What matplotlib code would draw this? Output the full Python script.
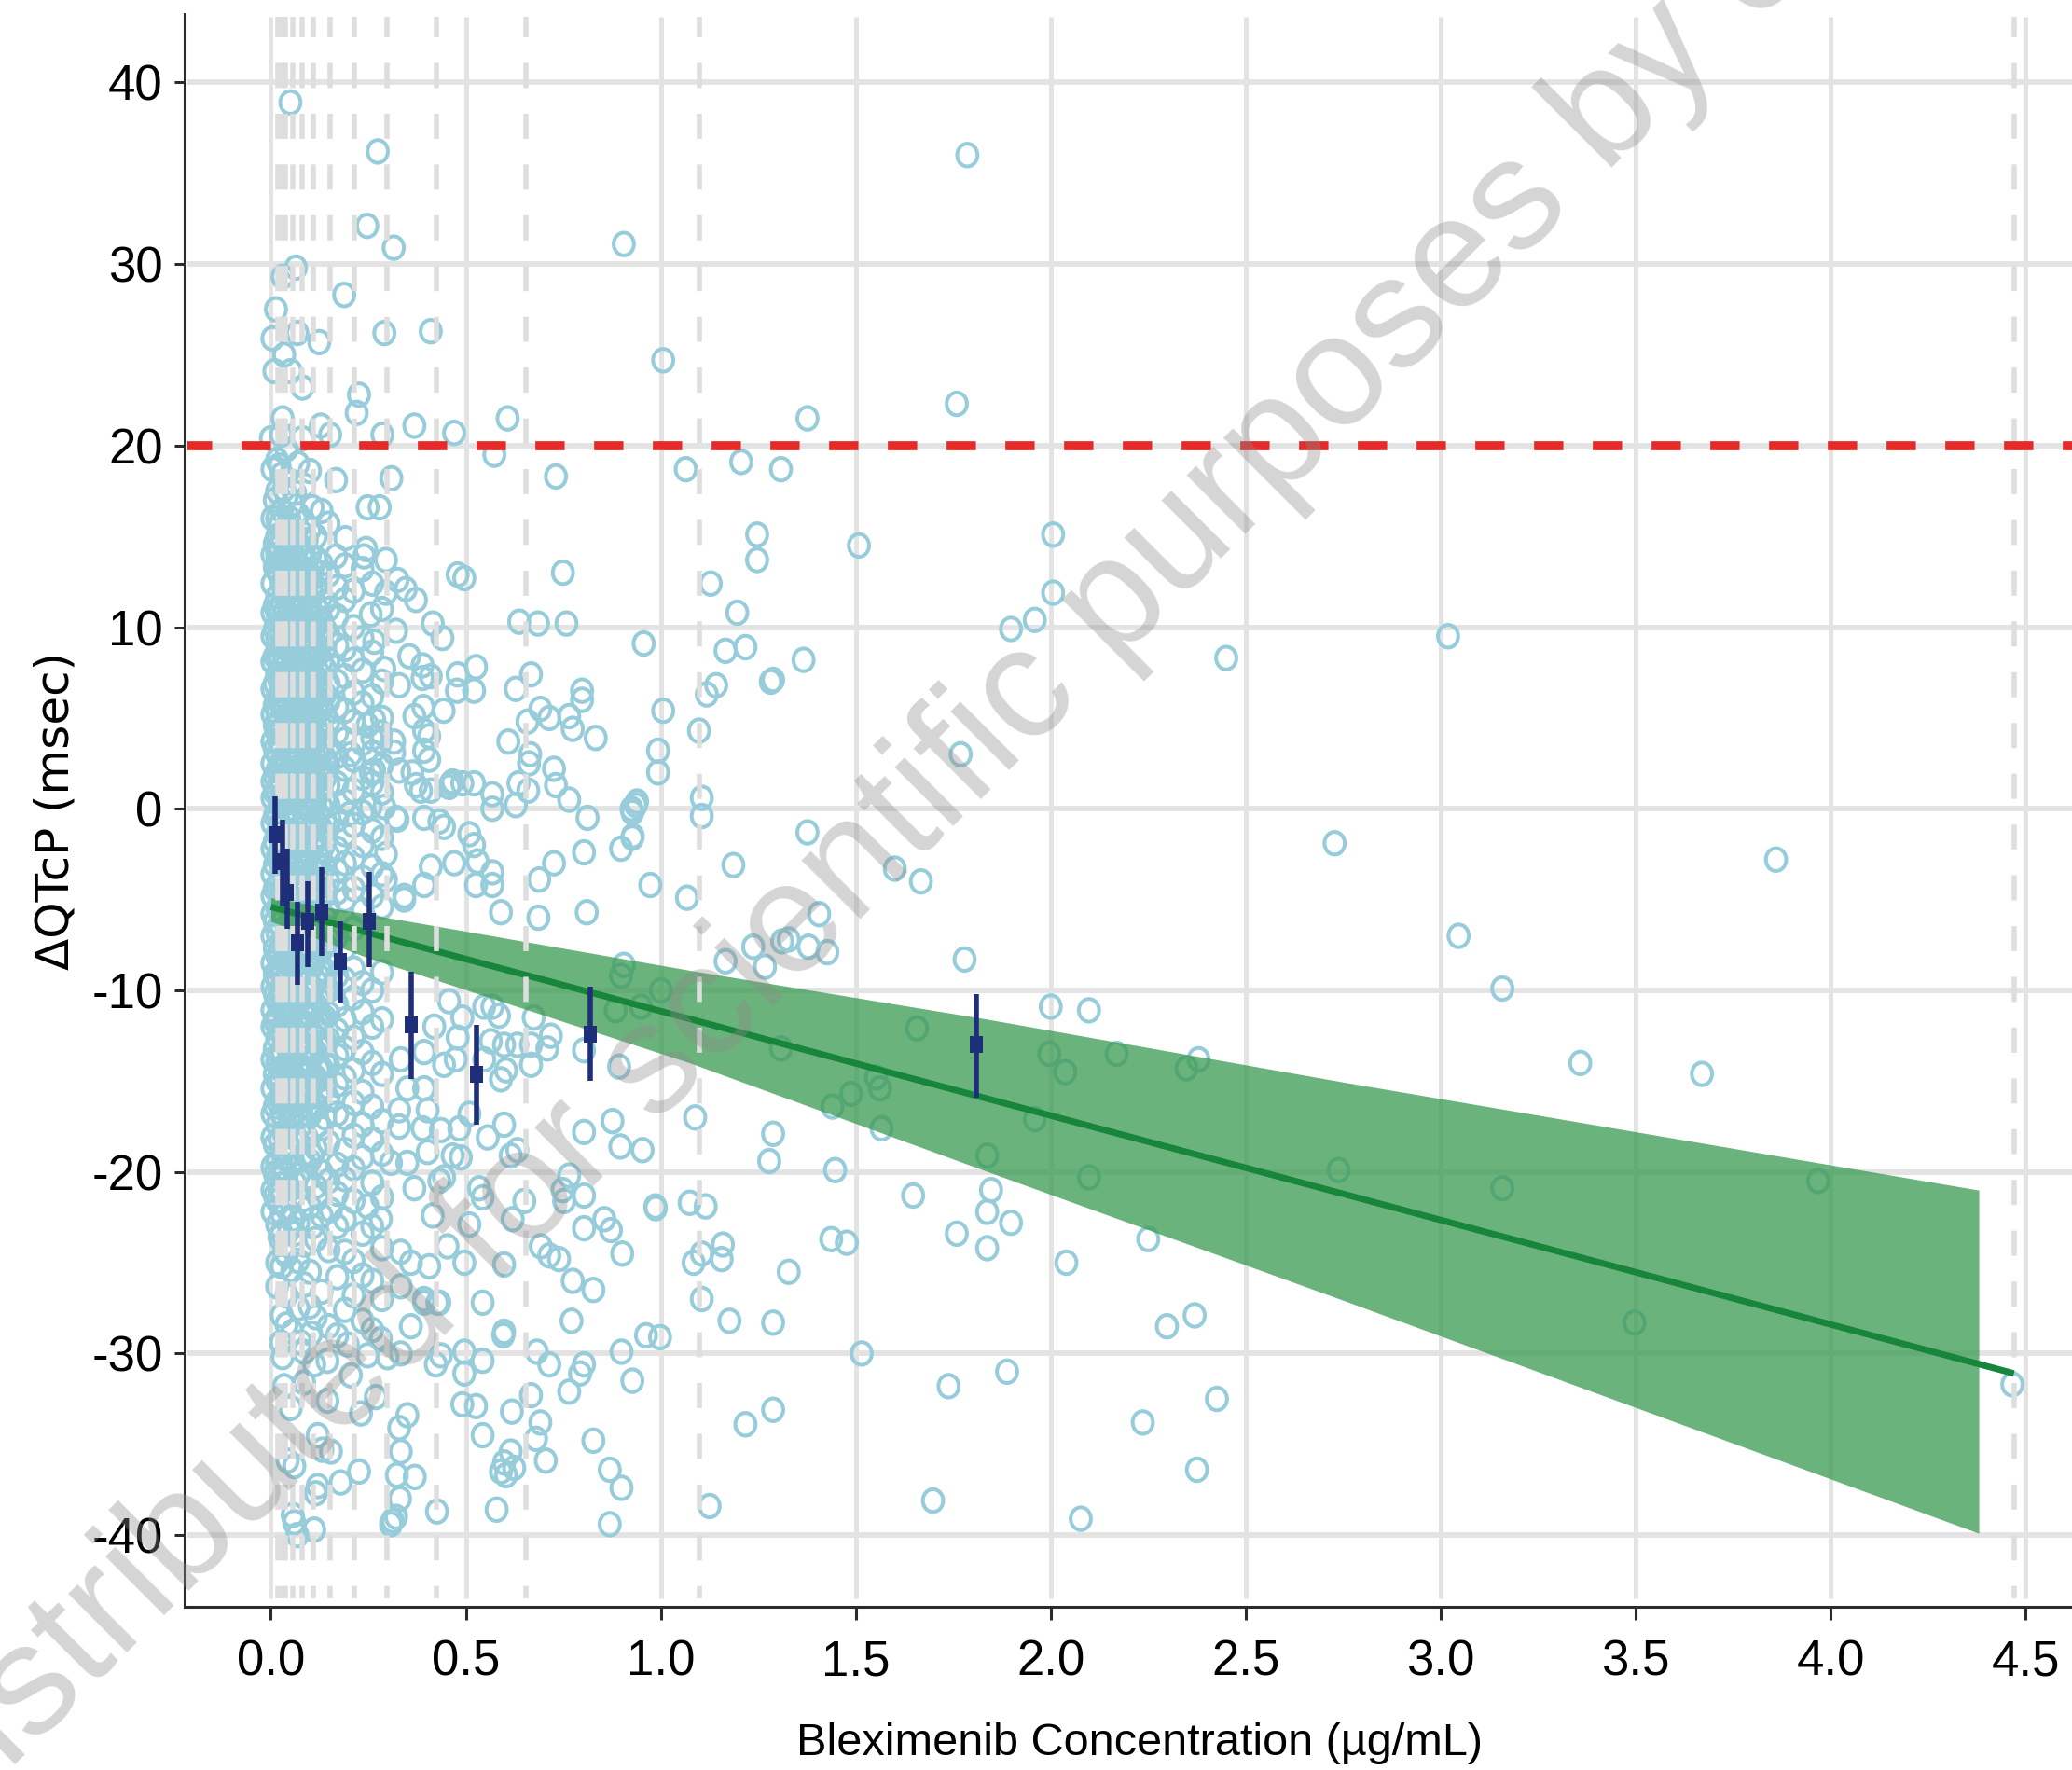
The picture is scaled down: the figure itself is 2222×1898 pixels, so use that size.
import numpy as np
import matplotlib
matplotlib.use('Agg')
import matplotlib.pyplot as plt
from matplotlib.markers import MarkerStyle
from matplotlib.transforms import Affine2D

plt.rcParams['axes.unicode_minus'] = False

x_ticks = [0.0, 0.5, 1.0, 1.5, 2.0, 2.5, 3.0, 3.5, 4.0, 4.5]
y_ticks = [40, 30, 20, 10, 0, -10, -20, -30, -40]
threshold = 20

# dashed lines, one per concentration bin
bin_edges = [0.017, 0.03, 0.038, 0.056, 0.081, 0.109, 0.151, 0.214, 0.297, 0.424, 0.655, 1.10, 4.47]

# regression line and its band
line_x = [0.0, 4.47]
line_y = [-5.4, -31.1]
band_x = [0.0, 0.248, 1.075, 1.84, 2.75, 4.38]
band_hi = [-4.9, -5.8, -8.9, -11.6, -15.05, -21.0]
band_lo = [-6.2, -8.2, -14.0, -20.0, -27.07, -39.9]

# observed mean and CI per bin
mean_x = [0.01, 0.03, 0.043, 0.067, 0.094, 0.13, 0.179, 0.253, 0.361, 0.527, 0.819, 1.809]
mean_y = [-1.4, -2.9, -4.6, -7.4, -6.2, -5.7, -8.4, -6.2, -11.9, -14.6, -12.4, -13.0]
mean_top = [0.7, -0.6, -2.2, -5.1, -4.0, -3.2, -6.2, -3.5, -9.0, -11.9, -9.8, -10.2]
mean_bottom = [-3.6, -5.4, -6.6, -9.7, -8.7, -8.1, -10.7, -8.7, -14.9, -17.4, -15.0, -15.9]

# individual observations, sparse part of the plot
far_points = [
    (1.786, 36.0), (0.905, 31.1), (1.006, 24.7), (0.607, 21.5), (1.376, 21.5), (1.759, 22.3),
    (1.206, 19.1), (1.064, 18.7), (1.308, 18.7), (1.247, 15.1), (1.247, 13.7), (1.508, 14.5),
    (1.128, 12.4), (1.196, 10.8), (2.006, 15.1), (2.006, 11.9), (1.959, 10.4), (1.898, 9.9),
    (2.45, 8.3), (3.019, 9.5), (0.956, 9.1), (1.166, 8.7), (1.217, 8.9), (1.366, 8.2),
    (1.142, 6.8), (1.118, 6.3), (1.288, 7.1), (1.282, 7.0), (1.098, 4.3), (1.006, 5.4), (0.993, 3.2),
    (0.993, 2.0), (1.105, 0.6), (1.105, -0.4), (0.939, 0.4), (0.925, 0.0), (0.928, -1.5),
    (0.898, -2.2), (1.769, 3.0), (1.376, -1.3), (1.186, -3.1), (1.6, -3.3), (1.667, -4.0),
    (0.973, -4.2), (1.067, -4.9), (1.406, -5.8), (1.427, -7.9), (1.379, -7.6), (1.311, -7.3),
    (1.328, -7.2), (1.237, -7.6), (1.267, -8.7), (1.166, -8.4), (1.779, -8.3), (2.728, -1.9),
    (3.86, -2.8), (3.046, -7.0), (3.158, -9.9), (3.358, -14.0), (3.67, -14.6), (2.0, -10.9),
    (2.098, -11.1), (1.657, -12.1), (1.996, -13.5), (2.037, -14.5), (2.169, -13.5), (2.379, -13.8),
    (2.348, -14.3), (1.308, -13.2), (1.488, -15.7), (1.44, -16.4), (1.562, -15.4), (1.566, -17.6),
    (1.552, -14.8), (1.959, -17.1), (1.837, -19.1), (2.738, -19.9), (3.158, -20.9), (3.968, -20.5),
    (2.098, -20.3), (1.847, -21.0), (1.647, -21.3), (1.447, -19.9), (1.288, -17.9), (1.278, -19.4),
    (1.088, -17.0), (1.837, -22.2), (1.898, -22.8), (1.759, -23.4), (1.837, -24.2), (2.25, -23.7),
    (2.04, -25.0), (1.437, -23.7), (1.477, -23.9), (1.328, -25.5), (1.074, -21.7), (1.115, -21.9),
    (1.159, -24.0), (1.156, -24.8), (1.105, -24.5), (1.084, -25.0), (0.986, -21.9), (1.105, -27.0),
    (1.176, -28.2), (1.288, -28.3), (2.298, -28.5), (2.369, -27.9), (3.497, -28.3), (1.515, -30.0),
    (1.888, -31.0), (1.738, -31.8), (2.426, -32.5), (2.236, -33.8), (1.288, -33.1), (1.217, -33.9),
    (4.466, -31.7), (2.375, -36.4), (1.698, -38.1), (2.077, -39.1), (1.125, -38.4),
    (0.949, -10.9), (0.884, -11.1), (0.898, -9.2), (0.905, -8.6), (1.0, -10.0),
]

# middle part
mid_points = [
    (0.05, 38.9), (0.274, 36.2), (0.247, 32.1), (0.315, 30.9), (0.064, 29.8), (0.03, 29.3),
    (0.013, 27.5), (0.188, 28.3), (0.004, 25.9), (0.068, 26.2), (0.124, 25.7), (0.291, 26.2),
    (0.41, 26.3), (0.034, 25.0), (0.009, 24.1), (0.051, 24.1), (0.081, 23.2), (0.226, 22.8),
    (0.22, 21.8), (0.03, 21.5), (0.128, 21.1), (0.152, 20.6), (0.368, 21.1), (0.286, 20.6),
    (0.47, 20.7), (0.0, 20.4), (0.081, 20.4), (0.026, 20.6), (0.573, 19.5), (0.731, 18.3),
    (0.309, 18.2), (0.167, 18.1), (0.248, 16.6), (0.279, 16.6), (0.749, 13.0), (0.479, 12.9),
    (0.496, 12.7), (0.295, 13.7), (0.244, 14.3), (0.239, 13.9), (0.191, 14.9), (0.167, 13.9),
    (0.148, 15.7), (0.107, 16.6), (0.325, 12.6), (0.346, 12.1), (0.372, 11.5), (0.295, 11.9),
    (0.415, 10.2), (0.44, 9.4), (0.321, 9.8), (0.256, 10.7), (0.265, 9.2), (0.637, 10.3),
    (0.685, 10.2), (0.758, 10.2), (0.526, 7.8), (0.479, 7.4), (0.521, 6.5), (0.477, 6.5),
    (0.667, 7.4), (0.628, 6.6), (0.355, 8.4), (0.389, 7.9), (0.41, 7.3), (0.389, 7.2),
    (0.291, 7.7), (0.329, 6.8), (0.798, 6.5), (0.798, 6.0), (0.443, 5.4), (0.691, 5.5),
    (0.714, 5.0), (0.658, 4.8), (0.765, 5.1), (0.774, 4.4), (0.833, 3.9), (0.609, 3.7),
    (0.368, 5.1), (0.391, 5.6), (0.393, 4.3), (0.406, 4.0), (0.665, 3.0), (0.662, 2.5),
    (0.393, 3.2), (0.406, 2.7), (0.726, 2.2), (0.731, 1.3), (0.635, 1.4), (0.66, 1.0),
    (0.765, 0.5), (0.812, -0.5), (0.936, 0.2), (0.927, -0.2), (0.927, -1.6), (0.803, -2.4),
    (0.726, -3.0), (0.688, -3.9), (0.462, 1.4), (0.466, 1.5), (0.457, 1.2), (0.491, 1.4),
    (0.521, 1.4), (0.568, 0.8), (0.568, 0.0), (0.628, 0.2), (0.509, -1.4), (0.521, -2.0),
    (0.53, -2.9), (0.47, -3.0), (0.41, -3.2), (0.568, -3.5), (0.526, -4.2), (0.568, -4.2),
    (0.393, -4.2), (0.342, -4.8), (0.295, -2.5), (0.295, -3.9), (0.321, -0.5), (0.325, -0.6),
    (0.393, -0.5), (0.432, -0.7), (0.444, -1.0), (0.363, 2.0), (0.372, 1.3), (0.385, 1.0),
    (0.41, 1.0), (0.329, 2.1), (0.256, 0.1), (0.291, 0.1), (0.201, -0.3), (0.316, 3.7),
    (0.316, 3.1), (0.256, 2.0), (0.265, 2.1), (0.205, 3.0), (0.248, 4.6), (0.265, 4.9),
    (0.282, 4.2), (0.282, 3.7), (0.261, 3.1), (0.59, -5.7), (0.686, -6.0), (0.81, -5.7),
    (0.342, -5.0), (0.547, -10.9), (0.568, -10.9), (0.585, -11.4), (0.674, -11.5), (0.718, -12.5),
    (0.709, -13.2), (0.667, -13.0), (0.667, -14.1), (0.632, -13.0), (0.598, -13.0), (0.603, -14.4),
    (0.59, -14.9), (0.564, -12.8), (0.547, -13.8), (0.803, -13.3), (0.893, -14.2), (0.803, -17.8),
    (0.876, -17.2), (0.896, -18.6), (0.953, -18.8), (0.598, -17.4), (0.556, -18.1), (0.632, -18.8),
    (0.615, -19.1), (0.765, -20.2), (0.748, -21.0), (0.752, -21.6), (0.803, -21.3), (0.987, -22.0),
    (0.803, -23.1), (0.855, -22.6), (0.872, -23.2), (0.901, -24.5), (0.534, -20.9), (0.543, -21.4),
    (0.65, -21.6), (0.62, -22.6), (0.509, -22.9), (0.692, -24.1), (0.714, -24.6), (0.739, -24.8),
    (0.598, -25.1), (0.774, -26.0), (0.827, -26.5), (0.771, -28.2), (0.543, -27.2), (0.427, -27.2),
    (0.393, -27.2), (0.962, -29.0), (0.998, -29.1), (0.598, -28.8), (0.359, -28.5), (0.35, -15.4),
    (0.393, -15.4), (0.393, -13.4), (0.333, -13.8), (0.444, -14.1), (0.474, -13.8), (0.419, -12.0),
    (0.457, -10.6), (0.491, -11.5), (0.479, -12.6), (0.402, -16.6), (0.329, -16.6), (0.436, -17.7),
    (0.483, -17.6), (0.509, -16.8), (0.389, -17.6), (0.329, -17.5), (0.402, -18.9), (0.35, -19.5),
    (0.308, -19.5), (0.466, -19.1), (0.487, -19.2), (0.368, -20.9), (0.444, -20.3), (0.432, -20.5),
    (0.282, -22.6), (0.248, -21.9), (0.154, -22.1), (0.415, -22.4), (0.453, -24.1), (0.496, -25.0),
    (0.333, -24.4), (0.359, -25.0), (0.406, -25.2), (0.333, -26.3), (0.393, -27.0), (0.432, -27.2),
    (0.596, -29.0), (0.436, -30.1), (0.423, -30.6), (0.496, -29.9), (0.496, -31.1), (0.543, -30.4),
    (0.682, -29.9), (0.714, -30.6), (0.899, -29.9), (0.927, -31.5), (0.803, -30.6), (0.793, -31.1),
    (0.765, -32.1), (0.667, -32.3), (0.618, -33.2), (0.491, -32.8), (0.526, -32.9), (0.691, -33.8),
    (0.68, -34.7), (0.705, -35.9), (0.543, -34.5), (0.827, -34.8), (0.615, -35.4), (0.598, -36.0),
    (0.59, -36.5), (0.603, -36.7), (0.624, -36.3), (0.869, -36.4), (0.899, -37.4), (0.579, -38.6),
    (0.869, -39.4), (0.426, -38.7), (0.333, -35.4), (0.35, -33.4), (0.329, -34.1), (0.323, -36.7),
    (0.369, -36.8), (0.331, -38.0), (0.312, -39.2), (0.308, -39.4), (0.321, -39.0), (0.269, -32.4),
    (0.231, -33.3), (0.226, -36.5), (0.179, -37.1), (0.12, -37.3), (0.115, -37.7), (0.154, -35.4),
    (0.132, -35.3), (0.111, -39.7), (0.056, -38.9), (0.06, -39.3), (0.068, -40.0), (0.06, -36.2),
    (0.043, -35.9), (0.12, -34.5), (0.145, -32.6), (0.051, -33.0), (0.034, -31.8), (0.085, -31.6),
    (0.111, -30.6), (0.145, -30.4), (0.205, -31.2), (0.197, -29.5), (0.248, -30.1), (0.333, -30.0),
    (0.282, -29.2), (0.299, -30.2), (0.03, -30.2), (0.026, -29.4), (0.077, -29.4), (0.103, -28.9),
]

# crowded low-concentration part, one list of y values per column of x
crowd_x = [0.004, 0.016, 0.028, 0.04, 0.055, 0.07, 0.085, 0.1, 0.115, 0.13, 0.148, 0.17, 0.19, 0.212, 0.235, 0.26, 0.285]
crowd_y = [
    [18.7, 16.0, 14.0, 12.4, 10.8, 9.5, 8.1, 6.6, 5.2, 3.7, 2.5, 1.5, 0.6, -0.8, -2.2, -3.6, -4.8, -5.8, -7.0, -8.5,
     -9.8, -11.1, -12.0, -13.8, -15.4, -16.8, -18.1, -19.7, -21.0, -22.2],
    [19.2, 17.5, 16.0, 15.0, 14.0, 13.1, 11.7, 10.8, 9.4, 8.6, 7.4, 6.1, 5.3, 4.2, 3.0, 2.1, 1.0, -0.2, -1.4, -2.7,
     -4.2, -5.5, -6.8, -8.1, -9.4, -10.6, -11.5, -12.6, -13.9, -15.0, -16.1, -17.4, -19.5, -20.4, -21.6, -22.9, -25.0, -26.3],
    [18.4, 16.4, 14.8, 13.6, 12.4, 11.3, 10.1, 8.9, 7.8, 6.7, 5.7, 4.4, 3.4, 2.4, 1.3, 0.2, -1.0, -2.1, -3.3, -4.4,
     -5.9, -7.3, -8.7, -9.9, -11.0, -12.3, -13.3, -14.4, -15.6, -16.8, -18.9, -19.9, -21.0, -22.3, -23.4, -25.2, -27.9],
    [19.8, 17.2, 15.5, 14.1, 13.0, 11.8, 10.5, 9.2, 8.3, 7.1, 6.0, 4.9, 3.8, 2.7, 1.7, 0.6, -0.5, -1.7, -2.9, -4.0,
     -5.2, -6.5, -7.9, -9.2, -10.4, -11.6, -12.8, -14.0, -15.2, -16.4, -17.7, -19.2, -20.6, -22.0, -24.6, -26.8, -28.4],
    [18.0, 16.8, 15.2, 14.2, 12.8, 11.5, 10.2, 9.0, 7.9, 6.8, 5.5, 4.6, 3.2, 2.2, 1.2, 0.0, -1.2, -2.4, -3.6, -4.9,
     -6.1, -7.5, -8.8, -10.0, -11.2, -12.4, -13.5, -14.7, -15.9, -17.1, -19.6, -21.3, -22.6, -25.4, -28.8],
    [19.0, 16.2, 14.6, 13.4, 12.1, 11.0, 9.7, 8.5, 7.4, 6.3, 5.1, 4.0, 2.9, 1.9, 0.8, -0.4, -1.5, -2.8, -4.1, -5.3,
     -6.7, -8.0, -9.3, -10.7, -11.8, -13.0, -14.1, -15.3, -16.6, -18.3, -20.2, -22.8, -24.9, -27.5],
    [17.8, 15.8, 14.3, 12.6, 11.4, 10.3, 9.1, 8.0, 6.9, 5.8, 4.7, 3.6, 2.6, 1.4, 0.3, -0.9, -2.0, -3.2, -4.5, -5.7,
     -7.1, -8.4, -9.6, -10.9, -12.1, -13.2, -14.5, -15.7, -17.3, -19.0, -21.5, -24.0, -26.2, -29.9],
    [18.6, 15.4, 14.0, 12.9, 11.1, 9.9, 8.8, 7.6, 6.5, 5.3, 4.3, 3.3, 2.0, 1.0, -0.1, -1.3, -2.5, -3.7, -4.8, -6.2,
     -7.6, -8.9, -10.2, -11.4, -12.7, -13.9, -15.1, -16.9, -19.4, -21.9, -25.5, -27.4],
    [15.0, 13.8, 12.2, 11.2, 10.0, 8.4, 7.2, 6.2, 5.0, 3.9, 2.8, 1.6, 0.5, -0.7, -1.8, -3.0, -4.3, -5.6, -7.0, -8.2,
     -9.5, -10.8, -12.0, -13.4, -14.8, -16.3, -18.7, -20.8, -23.7, -28.0],
    [16.4, 13.5, 11.7, 10.4, 9.3, 8.1, 6.6, 5.6, 4.5, 3.5, 2.3, 1.1, 0.1, -1.1, -2.3, -3.5, -5.0, -6.4, -7.8, -9.0,
     -10.3, -11.7, -13.0, -14.3, -15.5, -17.6, -20.0, -22.4, -26.6],
    [12.9, 11.0, 9.6, 8.2, 6.9, 5.9, 4.8, 3.4, 2.4, 1.3, 0.2, -1.0, -2.6, -4.0, -5.4, -7.2, -8.6, -10.0, -11.3, -12.7,
     -14.2, -16.0, -18.4, -20.5, -24.3, -28.5],
    [12.2, 10.6, 9.0, 7.0, 5.6, 4.2, 2.9, 1.4, -0.6, -2.2, -3.4, -4.6, -7.0, -9.2, -10.8, -12.2, -13.6, -15.2, -16.8,
     -19.6, -21.2, -23.0, -25.8, -29.0],
    [13.4, 11.5, 8.8, 7.3, 5.4, 3.8, 2.2, 0.4, -1.4, -3.0, -5.0, -7.7, -9.4, -11.6, -13.2, -14.8, -17.0, -18.8, -20.4,
     -22.6, -24.4, -27.6],
    [12.0, 10.0, 8.2, 6.4, 4.8, 2.7, 1.0, -0.9, -2.7, -4.4, -6.6, -8.8, -10.4, -12.6, -14.4, -16.2, -18.0, -19.8,
     -21.6, -24.9, -26.8],
    [13.2, 9.4, 7.6, 5.8, 3.6, 1.7, -0.2, -2.0, -3.8, -5.6, -9.6, -11.2, -13.4, -15.6, -17.4, -19.2, -23.4, -25.7, -28.2],
    [12.4, 8.6, 6.2, 3.9, 1.4, -1.2, -3.2, -4.8, -10.0, -12.0, -14.0, -16.4, -18.2, -20.6, -23.0, -26.0, -28.7],
    [11.0, 7.0, 5.0, 2.4, 0.9, -1.6, -3.6, -5.4, -9.0, -11.6, -14.6, -17.2, -19.0, -21.4, -24.2, -27.0],
]

# second pass over the solid block, columns between the ones above
block_x = [0.01, 0.022, 0.034, 0.047, 0.062, 0.078, 0.092, 0.107, 0.122, 0.139]
block_y = [
    [17.0, 14.6, 13.3, 11.2, 9.9, 8.4, 6.9, 5.7, 4.6, 3.3, 1.8, 0.9, -0.4, -1.8, -3.1, -4.4, -6.2, -7.7, -9.1, -10.2,
     -11.7, -13.2, -14.6, -16.4, -18.5, -20.1, -21.3],
    [18.9, 15.6, 14.4, 12.9, 11.0, 9.8, 8.2, 7.0, 5.9, 4.8, 3.6, 2.4, 1.5, 0.3, -0.9, -2.4, -3.9, -5.0, -6.3, -7.8,
     -8.9, -10.1, -12.2, -13.5, -14.7, -15.9, -18.2, -21.0, -23.6],
    [17.6, 15.3, 13.9, 12.0, 10.8, 9.5, 8.5, 6.5, 5.5, 4.0, 2.9, 1.9, 0.7, -0.6, -1.6, -3.0, -4.7, -6.0, -8.3, -9.6,
     -10.7, -11.9, -12.9, -14.2, -16.2, -17.9, -20.0, -24.4],
    [16.0, 14.5, 13.4, 12.2, 11.2, 9.8, 8.7, 7.5, 6.4, 5.2, 4.2, 3.1, 2.0, 0.9, -0.2, -1.4, -2.6, -3.8, -5.5, -6.9,
     -8.4, -9.7, -10.9, -12.1, -13.4, -14.5, -15.8, -17.0, -18.6, -20.9, -23.2],
    [17.4, 15.0, 13.7, 12.4, 10.9, 9.4, 8.2, 7.2, 6.1, 4.9, 3.9, 2.7, 1.6, 0.4, -0.8, -2.0, -3.3, -4.5, -5.9, -7.3,
     -8.6, -9.9, -11.0, -12.2, -13.7, -15.0, -16.2, -18.0, -20.6, -23.4],
    [15.2, 13.9, 12.8, 11.6, 10.6, 9.3, 8.1, 7.0, 5.8, 4.6, 3.5, 2.4, 1.2, 0.1, -1.1, -2.3, -3.5, -4.7, -6.4, -7.7,
     -9.0, -10.5, -11.7, -12.9, -14.2, -15.4, -16.8, -19.3, -22.0],
    [14.8, 13.6, 12.2, 10.9, 9.6, 8.6, 7.4, 6.3, 5.1, 4.0, 2.9, 1.8, 0.6, -0.5, -1.7, -3.0, -4.2, -5.5, -6.9, -8.2,
     -9.5, -10.7, -12.0, -13.3, -14.6, -16.0, -18.1, -20.3],
    [13.2, 11.8, 10.5, 9.4, 8.3, 7.1, 6.0, 4.8, 3.7, 2.6, 1.4, 0.4, -0.9, -2.1, -3.3, -4.6, -5.9, -7.2, -8.6, -9.9,
     -11.1, -12.4, -13.6, -14.9, -16.6, -19.1, -23.0],
    [13.0, 10.9, 9.7, 8.5, 7.5, 6.4, 5.3, 4.2, 3.1, 2.1, 0.9, -0.3, -1.5, -2.7, -3.9, -5.2, -6.6, -7.9, -9.2, -10.5,
     -11.8, -13.1, -14.4, -15.8, -17.4, -21.4],
    [11.4, 9.9, 8.8, 7.7, 6.3, 5.2, 4.0, 2.8, 1.7, 0.5, -0.6, -1.9, -3.2, -4.5, -6.0, -7.5, -8.9, -10.1, -11.5, -12.8,
     -14.0, -15.3, -17.0],
]

fig = plt.figure(figsize=(22.22, 18.98), dpi=100)
ax = fig.add_axes([198 / 2222, 175 / 1898, 2024 / 2222, 1708 / 1898])
ax.set_xlim(-0.2212, 4.619)
ax.set_ylim(-43.95, 43.77)

# grid stops a little short of the axis lines
ax.hlines(y_ticks, -0.213, 4.619, color='#E3E3E3', lw=4.2, zorder=1)
ax.vlines(x_ticks, -43.5, 43.6, color='#E3E3E3', lw=3.6, zorder=1)

crowd_points = [(x, y) for x, ys in zip(crowd_x + block_x, crowd_y + block_y) for y in ys]
points = np.array(far_points + mid_points + crowd_points)
ring = MarkerStyle('o', transform=Affine2D().scale(1, 1.12))
ax.scatter(points[:, 0], points[:, 1], s=245, marker=ring, facecolors='none',
           edgecolors='#97CCDB', linewidths=2.9, zorder=2, clip_on=False)

ax.fill_between(band_x, band_lo, band_hi, color='#3A9A50', alpha=0.75, lw=0, zorder=3)
ax.plot(line_x, line_y, color='#17863A', lw=5, solid_capstyle='butt', zorder=4)

for x in bin_edges:
    ax.plot([x, x], [43.6, -43.5], color='#DEDEDE', lw=4,
            linestyle=(0.9, (4.85, 4.95)), zorder=5)

ax.plot([-0.213, 4.619], [threshold, threshold], color='#E52A2A', lw=7,
        linestyle=(0.5, (3.23, 3.25)), zorder=6)

ax.vlines(mean_x, mean_bottom, mean_top, color='#1F2E78', lw=4, zorder=7)
block = MarkerStyle('s', transform=Affine2D().scale(1, 1.22))
ax.scatter(mean_x, mean_y, s=112, marker=block, color='#1F2E78', linewidths=0, zorder=8)

for side in ['top', 'right']:
    ax.spines[side].set_visible(False)
for side in ['left', 'bottom']:
    ax.spines[side].set_linewidth(2.2)
    ax.spines[side].set_color('#2B2B2B')

ax.set_xticks(x_ticks)
ax.set_xticklabels([f'{v:.1f}' for v in x_ticks], family='Liberation Sans', fontsize=38)
ax.set_yticks(y_ticks)
ax.set_yticklabels([str(v) for v in y_ticks], family='Liberation Sans', fontsize=38)
ax.tick_params(axis='x', length=10, width=2.2, pad=15, color='#2B2B2B')
ax.tick_params(axis='y', length=8, width=2.2, pad=9, color='#2B2B2B')

ax.set_xlabel('Bleximenib Concentration (µg/mL)', family='Liberation Sans', fontsize=35, va='center')
ax.xaxis.set_label_coords(0.506, -0.086)
ax.set_ylabel('ΔQTcP (msec)', family='DejaVu Sans', fontsize=36, va='center')
ax.yaxis.set_label_coords(-0.0682, 0.5)

# diagonal watermark across the whole picture
fig.text(-58 / 2222, (1898 - 1966) / 1898, 'distributed for scientific purposes by c',
         fontsize=122, family='Liberation Sans', color='#8A8C8A', alpha=0.37,
         rotation=45, rotation_mode='anchor', ha='left', va='baseline', zorder=20)

fig.savefig('out.png', dpi=100)
